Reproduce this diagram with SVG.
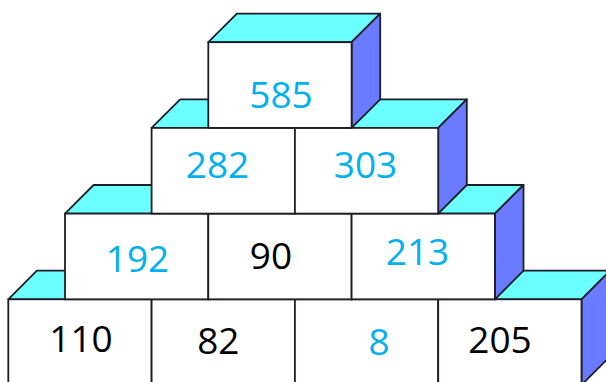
<svg xmlns="http://www.w3.org/2000/svg" width="606" height="382" viewBox="0 0 606 382">
<defs>
<style>
.top{fill:#6bffff;stroke:#1e1e28;stroke-width:1.8;stroke-linejoin:round}
.side{fill:#6b7bff;stroke:#1e1e28;stroke-width:1.8;stroke-linejoin:round}
.front{fill:#ffffff;stroke:#1e1e28;stroke-width:1.8}
.t{font-family:"Open Sans","Liberation Sans",sans-serif;font-size:37px;text-anchor:middle}
.b{fill:#00b0f0}
.k{fill:#000000}
</style>
</defs>
<rect width="606" height="382" fill="#ffffff"/>
<g id="connectors"></g>
<!-- Row 4 -->
<g id="box-110">
<polygon class="top" points="8.3,299.3 36.9,270.7 180.2,270.7 151.6,299.3"/>
<polygon class="side" points="151.6,299.3 180.2,270.7 180.2,356.4 151.6,385"/>
<rect class="front" x="8.3" y="299.3" width="143.3" height="85.7"/>
<text class="t k" x="81" y="352">110</text>
</g>
<g id="box-82">
<polygon class="top" points="151.6,299.3 180.2,270.7 323.5,270.7 294.9,299.3"/>
<polygon class="side" points="294.9,299.3 323.5,270.7 323.5,356.4 294.9,385"/>
<rect class="front" x="151.6" y="299.3" width="143.3" height="85.7"/>
<text class="t k" x="218.3" y="354">82</text>
</g>
<g id="box-8">
<polygon class="top" points="294.9,299.3 323.5,270.7 466.8,270.7 438.2,299.3"/>
<polygon class="side" points="438.2,299.3 466.8,270.7 466.8,356.4 438.2,385"/>
<rect class="front" x="294.9" y="299.3" width="143.3" height="85.7"/>
<text class="t b" x="379" y="355">8</text>
</g>
<g id="box-205">
<polygon class="top" points="438.2,299.3 466.8,270.7 610.1,270.7 581.5,299.3"/>
<polygon class="side" points="581.5,299.3 610.1,270.7 610.1,356.4 581.5,385"/>
<rect class="front" x="438.2" y="299.3" width="143.3" height="85.7"/>
<text class="t k" x="500" y="353">205</text>
</g>
<!-- Row 3 -->
<g id="box-192">
<polygon class="top" points="65,213.6 93.6,185 236.9,185 208.3,213.6"/>
<polygon class="side" points="208.3,213.6 236.9,185 236.9,270.7 208.3,299.3"/>
<rect class="front" x="65" y="213.6" width="143.3" height="85.7"/>
<text class="t b" x="137.5" y="272">192</text>
</g>
<g id="box-90">
<polygon class="top" points="208.3,213.6 236.9,185 380.2,185 351.6,213.6"/>
<polygon class="side" points="351.6,213.6 380.2,185 380.2,270.7 351.6,299.3"/>
<rect class="front" x="208.3" y="213.6" width="143.3" height="85.7"/>
<text class="t k" x="271" y="269">90</text>
</g>
<g id="box-213">
<polygon class="top" points="351.6,213.6 380.2,185 523.5,185 494.9,213.6"/>
<polygon class="side" points="494.9,213.6 523.5,185 523.5,270.7 494.9,299.3"/>
<rect class="front" x="351.6" y="213.6" width="143.3" height="85.7"/>
<text class="t b" x="417.5" y="265">213</text>
</g>
<!-- Row 2 -->
<g id="box-282">
<polygon class="top" points="151.6,127.9 180.2,99.3 323.5,99.3 294.9,127.9"/>
<polygon class="side" points="294.9,127.9 323.5,99.3 323.5,185 294.9,213.6"/>
<rect class="front" x="151.6" y="127.9" width="143.3" height="85.7"/>
<text class="t b" x="217.5" y="178">282</text>
</g>
<g id="box-303">
<polygon class="top" points="294.9,127.9 323.5,99.3 466.8,99.3 438.2,127.9"/>
<polygon class="side" points="438.2,127.9 466.8,99.3 466.8,185 438.2,213.6"/>
<rect class="front" x="294.9" y="127.9" width="143.3" height="85.7"/>
<text class="t b" x="365.5" y="178">303</text>
</g>
<!-- Row 1 -->
<g id="box-585">
<polygon class="top" points="208.3,42.2 236.9,13.6 380.2,13.6 351.6,42.2"/>
<polygon class="side" points="351.6,42.2 380.2,13.6 380.2,99.3 351.6,127.9"/>
<rect class="front" x="208.3" y="42.2" width="143.3" height="85.7"/>
<text class="t b" x="281" y="108">585</text>
</g>
</svg>
